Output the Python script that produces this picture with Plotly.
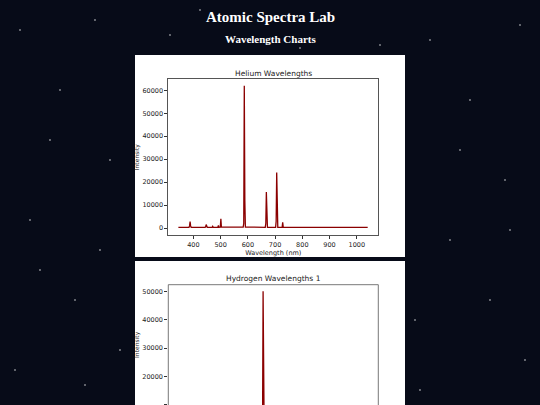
import plotly.graph_objects as go

# Helium spectrum (wavelength nm, intensity)
he_wl = [345, 384, 386, 388, 390, 392, 443, 445, 447, 449, 451, 469, 471, 473, 490, 492, 494,
         499, 501, 503, 583, 585, 587, 589, 591, 664, 666, 668, 670, 672, 702, 704, 706, 708, 710,
         726, 728, 730, 1040]
he_int = [300, 300, 900, 2800, 900, 300, 300, 500, 1500, 500, 300, 300, 700, 300, 300, 1100, 300,
          400, 4000, 400, 400, 2000, 62000, 12000, 400, 300, 2000, 15700, 2000, 300, 300, 3000, 24200, 3000, 300,
          300, 2500, 300, 300]

# Hydrogen spectrum
h_wl = [345, 484, 486, 488, 652, 654, 656, 658, 660, 1040]
h_int = [300, 300, 3000, 300, 300, 2000, 50000, 2000, 300, 300]

he_xticks = [400, 500, 600, 700, 800, 900, 1000]
he_yticks = [0, 10000, 20000, 30000, 40000, 50000, 60000]
h_yticks = [10000, 20000, 30000, 40000, 50000]

stars = [(20, 30), (60, 90), (95, 20), (110, 160), (30, 220), (75, 300), (15, 370), (120, 350),
         (50, 140), (100, 250), (430, 40), (470, 100), (520, 25), (505, 180), (450, 240),
         (490, 300), (525, 360), (420, 390), (460, 150), (200, 10), (330, 15), (380, 45),
         (170, 35), (300, 48), (85, 385), (415, 320), (510, 230), (40, 270)]

W, H = 540, 405
def px(x): return x / W
def py(y): return 1 - y / H

fig = go.Figure()
line = dict(color="#8b0000", width=1.3)
fig.add_trace(go.Scatter(x=he_wl, y=he_int, mode="lines", line=line, xaxis="x", yaxis="y", showlegend=False))
fig.add_trace(go.Scatter(x=h_wl, y=h_int, mode="lines", line=line, xaxis="x2", yaxis="y2", showlegend=False))

shapes = []
for sx, sy in stars:
    shapes.append(dict(type="circle", xref="paper", yref="paper", x0=px(sx - 0.7), x1=px(sx + 0.7),
                       y0=py(sy + 0.7), y1=py(sy - 0.7), fillcolor="white", line_width=0, layer="below"))
shapes.append(dict(type="rect", xref="paper", yref="paper", x0=px(135), x1=px(405), y0=py(257), y1=py(55),
                   fillcolor="white", line_width=0, layer="below"))
shapes.append(dict(type="rect", xref="paper", yref="paper", x0=px(135), x1=px(405), y0=0, y1=py(261),
                   fillcolor="white", line_width=0, layer="below"))
for (a, b, c, d) in [(168.3, 284.7, 168.3, 405), (168.3, 284.7, 378.3, 284.7), (378.3, 284.7, 378.3, 405)]:
    shapes.append(dict(type="line", xref="paper", yref="paper", x0=px(a), y0=py(b), x1=px(c), y1=py(d),
                       line=dict(color="#555", width=0.8)))

tf = dict(family="DejaVu Sans", size=6.5, color="#222")
ax_common = dict(showgrid=False, zeroline=False, ticks="outside", ticklen=3, tickcolor="#333",
                 tickfont=tf, tickformat="d")
def ann(text, x, y, font):
    return dict(text=text, x=x, y=y, xref="paper", yref="paper", showarrow=False,
                xanchor="center", yanchor="middle", font=font)

fig.update_layout(
    width=W, height=H, margin=dict(l=0, r=0, t=0, b=0),
    paper_bgcolor="#070b18", plot_bgcolor="white",
    shapes=shapes,
    xaxis=dict(domain=[px(168.3), px(378.3)], range=[308, 1079], tickvals=he_xticks,
               showline=True, mirror=True, linecolor="#555", linewidth=0.8, anchor="y",
               title=dict(text="Wavelength (nm)", font=tf, standoff=2), **ax_common),
    yaxis=dict(domain=[py(235), py(79.3)], range=[-3050, 64790], tickvals=he_yticks,
               showline=True, mirror=True, linecolor="#555", linewidth=0.8, anchor="x",
               title=dict(text="Intensity", font=dict(family="DejaVu Sans", size=6, color="#222"), standoff=2),
               **ax_common),
    xaxis2=dict(domain=[px(168.3), px(378.3)], range=[308, 1079], showticklabels=False, ticks="",
                showline=False, showgrid=False, zeroline=False, anchor="y2"),
    yaxis2=dict(domain=[0, py(284.7)], range=[9965, 52324], tickvals=h_yticks, anchor="x2",
                showline=False,
                title=dict(text="Intensity", font=dict(family="DejaVu Sans", size=6, color="#222"), standoff=2),
                **ax_common),
    annotations=[
        ann("<b>Atomic Spectra Lab</b>", 0.5, py(17), dict(family="Liberation Serif", size=15, color="white")),
        ann("<b>Wavelength Charts</b>", 0.5, py(39), dict(family="Liberation Serif", size=11, color="white")),
        ann("Helium Wavelengths", px(273.3), py(73), dict(family="DejaVu Sans", size=7.5, color="#222")),
        ann("Hydrogen Wavelengths 1", px(273.3), py(278.5), dict(family="DejaVu Sans", size=7.5, color="#222")),
    ],
)
fig.write_html("out.html", config={"displayModeBar": False},
               post_script="document.body.style.margin='0';document.body.style.overflow='hidden';")
